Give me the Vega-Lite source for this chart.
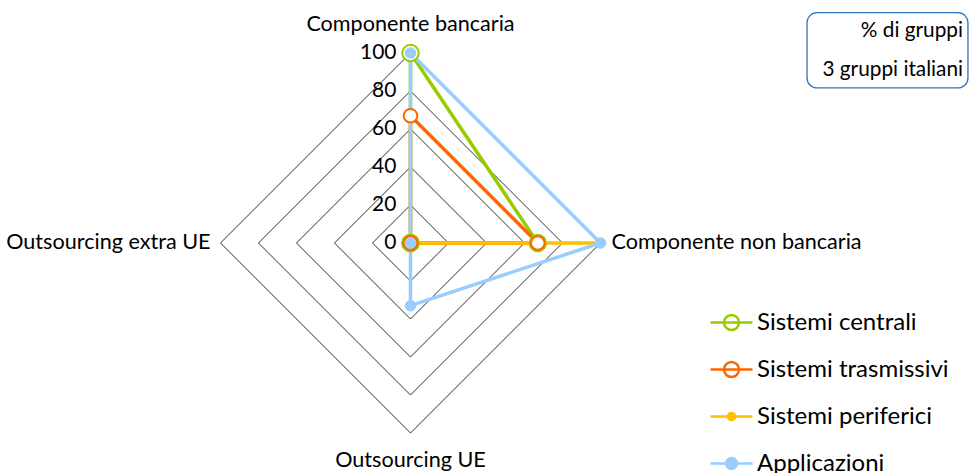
{
  "$schema": "https://vega.github.io/schema/vega-lite/v6.json",
  "width": 969,
  "height": 473,
  "padding": 0,
  "autosize": {"type": "none"},
  "background": "white",
  "config": {"view": {"stroke": null}, "font": "Lato"},
  "datasets": {
    "series": [
      {"series": "Sistemi centrali", "idx": 0, "value": 100},
      {"series": "Sistemi centrali", "idx": 1, "value": 67},
      {"series": "Sistemi centrali", "idx": 2, "value": 0},
      {"series": "Sistemi centrali", "idx": 3, "value": 0},
      {"series": "Sistemi trasmissivi", "idx": 0, "value": 67},
      {"series": "Sistemi trasmissivi", "idx": 1, "value": 67},
      {"series": "Sistemi trasmissivi", "idx": 2, "value": 0},
      {"series": "Sistemi trasmissivi", "idx": 3, "value": 0},
      {"series": "Sistemi periferici", "idx": 0, "value": 0},
      {"series": "Sistemi periferici", "idx": 1, "value": 100},
      {"series": "Sistemi periferici", "idx": 2, "value": 0},
      {"series": "Sistemi periferici", "idx": 3, "value": 0},
      {"series": "Applicazioni", "idx": 0, "value": 100},
      {"series": "Applicazioni", "idx": 1, "value": 100},
      {"series": "Applicazioni", "idx": 2, "value": 33},
      {"series": "Applicazioni", "idx": 3, "value": 0}
    ],
    "grid": [
      {"level": 20, "idx": 0}, {"level": 20, "idx": 1}, {"level": 20, "idx": 2}, {"level": 20, "idx": 3},
      {"level": 40, "idx": 0}, {"level": 40, "idx": 1}, {"level": 40, "idx": 2}, {"level": 40, "idx": 3},
      {"level": 60, "idx": 0}, {"level": 60, "idx": 1}, {"level": 60, "idx": 2}, {"level": 60, "idx": 3},
      {"level": 80, "idx": 0}, {"level": 80, "idx": 1}, {"level": 80, "idx": 2}, {"level": 80, "idx": 3},
      {"level": 100, "idx": 0}, {"level": 100, "idx": 1}, {"level": 100, "idx": 2}, {"level": 100, "idx": 3}
    ],
    "ticks": [
      {"level": 0}, {"level": 20}, {"level": 40}, {"level": 60}, {"level": 80}, {"level": 100}
    ]
  },
  "layer": [
    {
      "data": {"name": "grid"},
      "transform": [
        {"calculate": "datum.level * sin(datum.idx * PI / 2)", "as": "x"},
        {"calculate": "datum.level * cos(datum.idx * PI / 2)", "as": "y"}
      ],
      "mark": {"type": "line", "interpolate": "linear-closed", "stroke": "#303030", "strokeWidth": 1},
      "encoding": {
        "x": {"field": "x", "type": "quantitative", "scale": {"domain": [-216.05, 293.95], "nice": false, "zero": false}, "axis": null},
        "y": {"field": "y", "type": "quantitative", "scale": {"domain": [-121.05, 127.89], "nice": false, "zero": false}, "axis": null},
        "detail": {"field": "level", "type": "nominal"},
        "order": {"field": "idx", "type": "quantitative"}
      }
    },
    {
      "data": {"name": "series"},
      "transform": [
        {"calculate": "datum.value * sin(datum.idx * PI / 2)", "as": "x"},
        {"calculate": "datum.value * cos(datum.idx * PI / 2)", "as": "y"}
      ],
      "mark": {"type": "point", "opacity": 0},
      "encoding": {
        "x": {"field": "x", "type": "quantitative"},
        "y": {"field": "y", "type": "quantitative"},
        "color": {"field": "series", "type": "nominal", "scale": {"domain": ["Sistemi centrali", "Sistemi trasmissivi", "Sistemi periferici", "Applicazioni"], "range": ["#99CC00", "#FF6600", "#FFC000", "#99CCFF"]}, "legend": {"title": null, "orient": "none", "legendX": 718, "legendY": 309, "padding": 0, "symbolSize": 576, "symbolStrokeWidth": 2.5, "symbolOpacity": 1, "labelFont": "Lato", "labelFontSize": 24, "labelColor": "black", "labelOffset": 12, "rowPadding": 21, "labelLimit": 400}},
        "fill": {"field": "series", "type": "nominal", "scale": {"domain": ["Sistemi centrali", "Sistemi trasmissivi", "Sistemi periferici", "Applicazioni"], "range": ["#FFFFFF", "#FFFFFF", "#FFC000", "#99CCFF"]}, "legend": {"title": null, "orient": "none", "legendX": 718, "legendY": 309, "padding": 0, "symbolSize": 576, "symbolStrokeWidth": 2.5, "symbolOpacity": 1, "labelFont": "Lato", "labelFontSize": 24, "labelColor": "black", "labelOffset": 12, "rowPadding": 21, "labelLimit": 400}},
        "shape": {"field": "series", "type": "nominal", "scale": {"domain": ["Sistemi centrali", "Sistemi trasmissivi", "Sistemi periferici", "Applicazioni"], "range": [
          "M-1.75,0H1.75M0.62,0A0.62,0.62,0,1,1,-0.62,0A0.62,0.62,0,1,1,0.62,0Z",
          "M-1.75,0H1.75M0.62,0A0.62,0.62,0,1,1,-0.62,0A0.62,0.62,0,1,1,0.62,0Z",
          "M-1.75,0H1.75M0.3,0A0.3,0.3,0,1,1,-0.3,0A0.3,0.3,0,1,1,0.3,0Z",
          "M-1.75,0H1.75M0.45,0A0.45,0.45,0,1,1,-0.45,0A0.45,0.45,0,1,1,0.45,0Z"
        ]}, "legend": {"title": null, "orient": "none", "legendX": 718, "legendY": 309, "padding": 0, "symbolSize": 576, "symbolStrokeWidth": 2.5, "symbolOpacity": 1, "labelFont": "Lato", "labelFontSize": 24, "labelColor": "black", "labelOffset": 12, "rowPadding": 21, "labelLimit": 400}}
      }
    },
    {
      "data": {"name": "ticks"},
      "mark": {"type": "text", "align": "right", "baseline": "middle", "dx": -14, "fontSize": 21, "font": "Lato", "color": "black"},
      "encoding": {
        "x": {"datum": 0, "type": "quantitative"},
        "y": {"field": "level", "type": "quantitative"},
        "text": {"field": "level", "type": "quantitative"}
      }
    },
    {
      "data": {"name": "series"},
      "transform": [
        {"calculate": "datum.value * sin(datum.idx * PI / 2)", "as": "x"},
        {"calculate": "datum.value * cos(datum.idx * PI / 2)", "as": "y"}
      ],
      "mark": {"type": "line", "interpolate": "linear-closed", "strokeWidth": 3.5},
      "encoding": {
        "x": {"field": "x", "type": "quantitative"},
        "y": {"field": "y", "type": "quantitative"},
        "stroke": {"field": "series", "type": "nominal", "scale": {"domain": ["Sistemi centrali", "Sistemi trasmissivi", "Sistemi periferici", "Applicazioni"], "range": ["#99CC00", "#FF6600", "#FFC000", "#99CCFF"]}, "legend": null},
        "order": {"field": "idx", "type": "quantitative"}
      }
    },
    {
      "data": {"name": "series"},
      "transform": [
        {"filter": "datum.series == 'Sistemi centrali'"},
        {"calculate": "datum.value * sin(datum.idx * PI / 2)", "as": "x"},
        {"calculate": "datum.value * cos(datum.idx * PI / 2)", "as": "y"}
      ],
      "mark": {"type": "point", "shape": "circle", "filled": false, "fill": "white", "stroke": "#99CC00", "strokeWidth": 2, "size": 272, "opacity": 1},
      "encoding": {
        "x": {"field": "x", "type": "quantitative"},
        "y": {"field": "y", "type": "quantitative"}
      }
    },
    {
      "data": {"name": "series"},
      "transform": [
        {"filter": "datum.series == 'Sistemi trasmissivi'"},
        {"calculate": "datum.value * sin(datum.idx * PI / 2)", "as": "x"},
        {"calculate": "datum.value * cos(datum.idx * PI / 2)", "as": "y"}
      ],
      "mark": {"type": "point", "shape": "circle", "filled": false, "fill": "white", "stroke": "#FF6600", "strokeWidth": 2, "size": 186, "opacity": 1},
      "encoding": {
        "x": {"field": "x", "type": "quantitative"},
        "y": {"field": "y", "type": "quantitative"}
      }
    },
    {
      "data": {"name": "series"},
      "transform": [
        {"filter": "datum.series == 'Sistemi periferici'"},
        {"calculate": "datum.value * sin(datum.idx * PI / 2)", "as": "x"},
        {"calculate": "datum.value * cos(datum.idx * PI / 2)", "as": "y"}
      ],
      "mark": {"type": "point", "shape": "circle", "filled": true, "fill": "#FFC000", "stroke": "#FFC000", "strokeWidth": 1, "size": 40, "opacity": 1},
      "encoding": {
        "x": {"field": "x", "type": "quantitative"},
        "y": {"field": "y", "type": "quantitative"}
      }
    },
    {
      "data": {"name": "series"},
      "transform": [
        {"filter": "datum.series == 'Applicazioni'"},
        {"calculate": "datum.value * sin(datum.idx * PI / 2)", "as": "x"},
        {"calculate": "datum.value * cos(datum.idx * PI / 2)", "as": "y"}
      ],
      "mark": {"type": "point", "shape": "circle", "filled": true, "fill": "#99CCFF", "stroke": "#99CCFF", "strokeWidth": 1, "size": 110, "opacity": 1},
      "encoding": {
        "x": {"field": "x", "type": "quantitative"},
        "y": {"field": "y", "type": "quantitative"}
      }
    },
    {
      "data": {"values": [{"label": "Componente bancaria"}]},
      "mark": {"type": "text", "align": "center", "baseline": "middle", "dy": -28, "fontSize": 21.6, "font": "Lato", "color": "black"},
      "encoding": {"x": {"datum": 0, "type": "quantitative"}, "y": {"datum": 100, "type": "quantitative"}, "text": {"field": "label"}}
    },
    {
      "data": {"values": [{"label": "Componente non bancaria"}]},
      "mark": {"type": "text", "align": "left", "baseline": "middle", "dx": 11, "fontSize": 21.6, "font": "Lato", "color": "black"},
      "encoding": {"x": {"datum": 100, "type": "quantitative"}, "y": {"datum": 0, "type": "quantitative"}, "text": {"field": "label"}}
    },
    {
      "data": {"values": [{"label": "Outsourcing UE"}]},
      "mark": {"type": "text", "align": "center", "baseline": "middle", "dy": 28, "fontSize": 21.6, "font": "Lato", "color": "black"},
      "encoding": {"x": {"datum": 0, "type": "quantitative"}, "y": {"datum": -100, "type": "quantitative"}, "text": {"field": "label"}}
    },
    {
      "data": {"values": [{"label": "Outsourcing extra UE"}]},
      "mark": {"type": "text", "align": "right", "baseline": "middle", "dx": -10, "fontSize": 21.6, "font": "Lato", "color": "black"},
      "encoding": {"x": {"datum": -100, "type": "quantitative"}, "y": {"datum": 0, "type": "quantitative"}, "text": {"field": "label"}}
    },
    {
      "data": {"values": [{"note": "box"}]},
      "mark": {"type": "rect", "fill": "white", "stroke": "#2E75B6", "strokeWidth": 1.3, "cornerRadius": 10},
      "encoding": {
        "x": {"datum": 208.7, "type": "quantitative"},
        "x2": {"datum": 293.4},
        "y": {"datum": 121.2, "type": "quantitative"},
        "y2": {"datum": 81.6}
      }
    },
    {
      "data": {"values": [{"line": "% di gruppi", "pos": 111.6}, {"line": "3 gruppi italiani", "pos": 91.0}]},
      "mark": {"type": "text", "align": "right", "baseline": "middle", "fontSize": 20.8, "font": "Lato", "color": "black"},
      "encoding": {
        "x": {"datum": 290.8, "type": "quantitative"},
        "y": {"field": "pos", "type": "quantitative"},
        "text": {"field": "line"}
      }
    }
  ]
}
